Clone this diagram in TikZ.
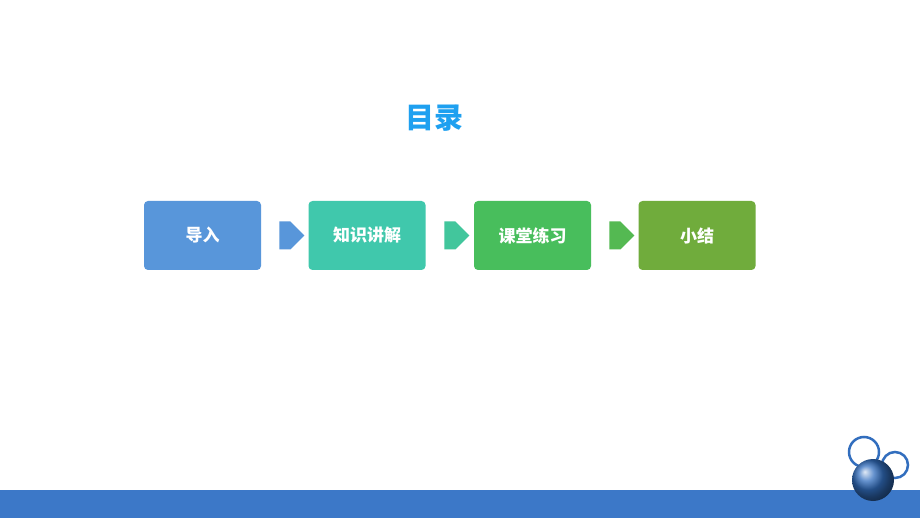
\documentclass[tikz,border=0pt]{standalone}
\usepackage{fontspec}
\newfontfamily\cjk{Noto Sans CJK SC}
\usetikzlibrary{calc,shapes.arrows}
\definecolor{titleblue}{RGB}{30,160,240}
\definecolor{boxa}{RGB}{88,150,218}
\definecolor{boxb}{RGB}{64,200,172}
\definecolor{boxc}{RGB}{72,190,92}
\definecolor{boxd}{RGB}{112,172,60}
\definecolor{barblue}{RGB}{60,120,200}
\definecolor{ringblue}{RGB}{50,110,190}
\begin{document}
\begin{tikzpicture}[x=1pt,y=-1pt,
    stepbox/.style={rounded corners=4pt,minimum width=117pt,minimum height=69pt,
      text=white,font=\cjk\bfseries\fontsize{17}{20}\selectfont},
    flow/.style={single arrow,minimum width=28pt,minimum height=25pt,
      single arrow head extend=0pt,inner sep=0pt,shape border rotate=0}]
  \useasboundingbox (0,0) rectangle (920,518);
  \fill[white] (0,0) rectangle (920,518);
  \node[text=titleblue,font=\cjk\bfseries\fontsize{29}{34}\selectfont] (title) at (434,118) {目录};
  \node[stepbox,fill=boxa] (intro) at (202.5,235.5) {导入};
  \node[stepbox,fill=boxb] (theory) at (367,235.5) {知识讲解};
  \node[stepbox,fill=boxc] (drill) at (532.5,235.5) {课堂练习};
  \node[stepbox,fill=boxd] (recap) at (697,235.5) {小结};
  \node[flow,fill=boxa] (arr1) at ($(intro.east)!0.5!(theory.west)$) {};
  \node[flow,fill=boxb!80!boxc] (arr2) at ($(theory.east)!0.5!(drill.west)$) {};
  \node[flow,fill=boxc!70!boxd] (arr3) at ($(drill.east)!0.5!(recap.west)$) {};
  % footer bar and bubbles
  \fill[barblue] (0,490) rectangle (920,518);
  \draw[ringblue,line width=2.5pt,fill=white] (864,452) circle (15);
  \draw[ringblue,line width=2.5pt,fill=white] (895,465) circle (13);
  \shade[ball color=ringblue] (873,480) circle (21);
\end{tikzpicture}
\end{document}
